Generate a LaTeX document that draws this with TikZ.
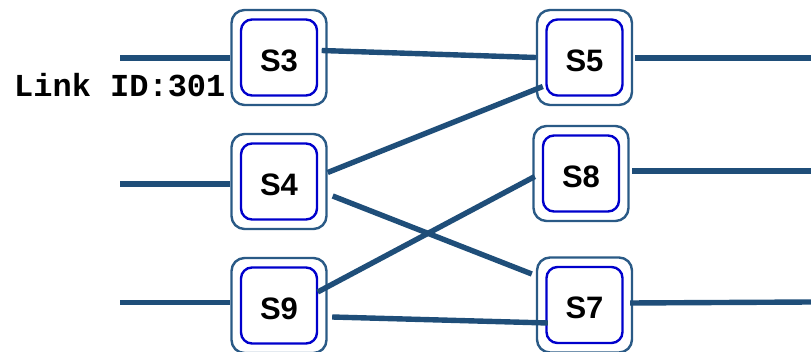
\documentclass[tikz,border=0pt]{standalone}
\usepackage{fontspec}
\setmainfont{Liberation Sans}
\newfontfamily\monobold{Liberation Mono}[BoldFont={* Bold}]
\definecolor{linkblue}{HTML}{1F4E79}
\definecolor{frameblue}{HTML}{2A5A86}
\definecolor{coreblue}{HTML}{0000CC}
\begin{document}
\begin{tikzpicture}[x=1pt,y=-1pt,
  switch/.style={draw=frameblue, line width=2.4pt, rounded corners=13pt,
    minimum width=95pt, minimum height=95pt, inner sep=0pt,
    text height=28pt, text depth=0pt,
    font=\fontsize{31}{31}\selectfont\bfseries,
    path picture={\draw[coreblue, line width=2.4pt, rounded corners=11pt]
      ([xshift=9.5pt,yshift=9.5pt]path picture bounding box.south west) rectangle
      ([xshift=-9.5pt,yshift=-9.5pt]path picture bounding box.north east);}},
  link/.style={draw=linkblue, line width=5.4pt}]
\clip (0,0) rectangle (811,352);
\useasboundingbox (0,0) rectangle (811,352);

% switches
\node[switch] (s3) at (279,57.5) {S3};
\node[switch] (s4) at (279,181.5) {S4};
\node[switch] (s9) at (279,305.5) {S9};
\node[switch] (s5) at (584.5,57.5) {S5};
\node[switch] (s8) at (581,173.5) {S8};
\node[switch] (s7) at (584.5,305) {S7};

% label
\node[anchor=base west, inner sep=0pt, font=\monobold\fontsize{32}{32}\selectfont\bfseries] (lid) at (14,97) {Link ID:301};

% free ends
\coordinate (in3) at (120,58);
\coordinate (in4) at (120,184);
\coordinate (in9) at (120,302.5);
\coordinate (out5) at (811,58);
\coordinate (out8) at (811,171);
\coordinate (out7) at (811,302);

% links
\draw[link] (in3) -- (s3.west |- in3);
\draw[link] (in4) -- (s4.west |- in4);
\draw[link] (in9) -- (s9.west |- in9);
\draw[link] ([shift={(-6,-7)}]s3.east) -- (s5.west);
\draw[link] ([shift={(0,-9)}]s4.east) -- ([shift={(7,29)}]s5.west);
\draw[link] ([shift={(5,14.5)}]s4.east) -- ([shift={(-4,-31)}]s7.west);
\draw[link] ([shift={(-10,-13.5)}]s9.east) -- ([shift={(2.5,3)}]s8.west);
\draw[link] ([shift={(4.5,11.5)}]s9.east) -- ([shift={(12,18)}]s7.west);
\draw[link] ([shift={(2,0.5)}]s5.east) -- (out5);
\draw[link] ([shift={(2.5,-2.5)}]s8.east) -- (out8);
\draw[link] ([shift={(-3,-2)}]s7.east) -- (out7);
\end{tikzpicture}
\end{document}
